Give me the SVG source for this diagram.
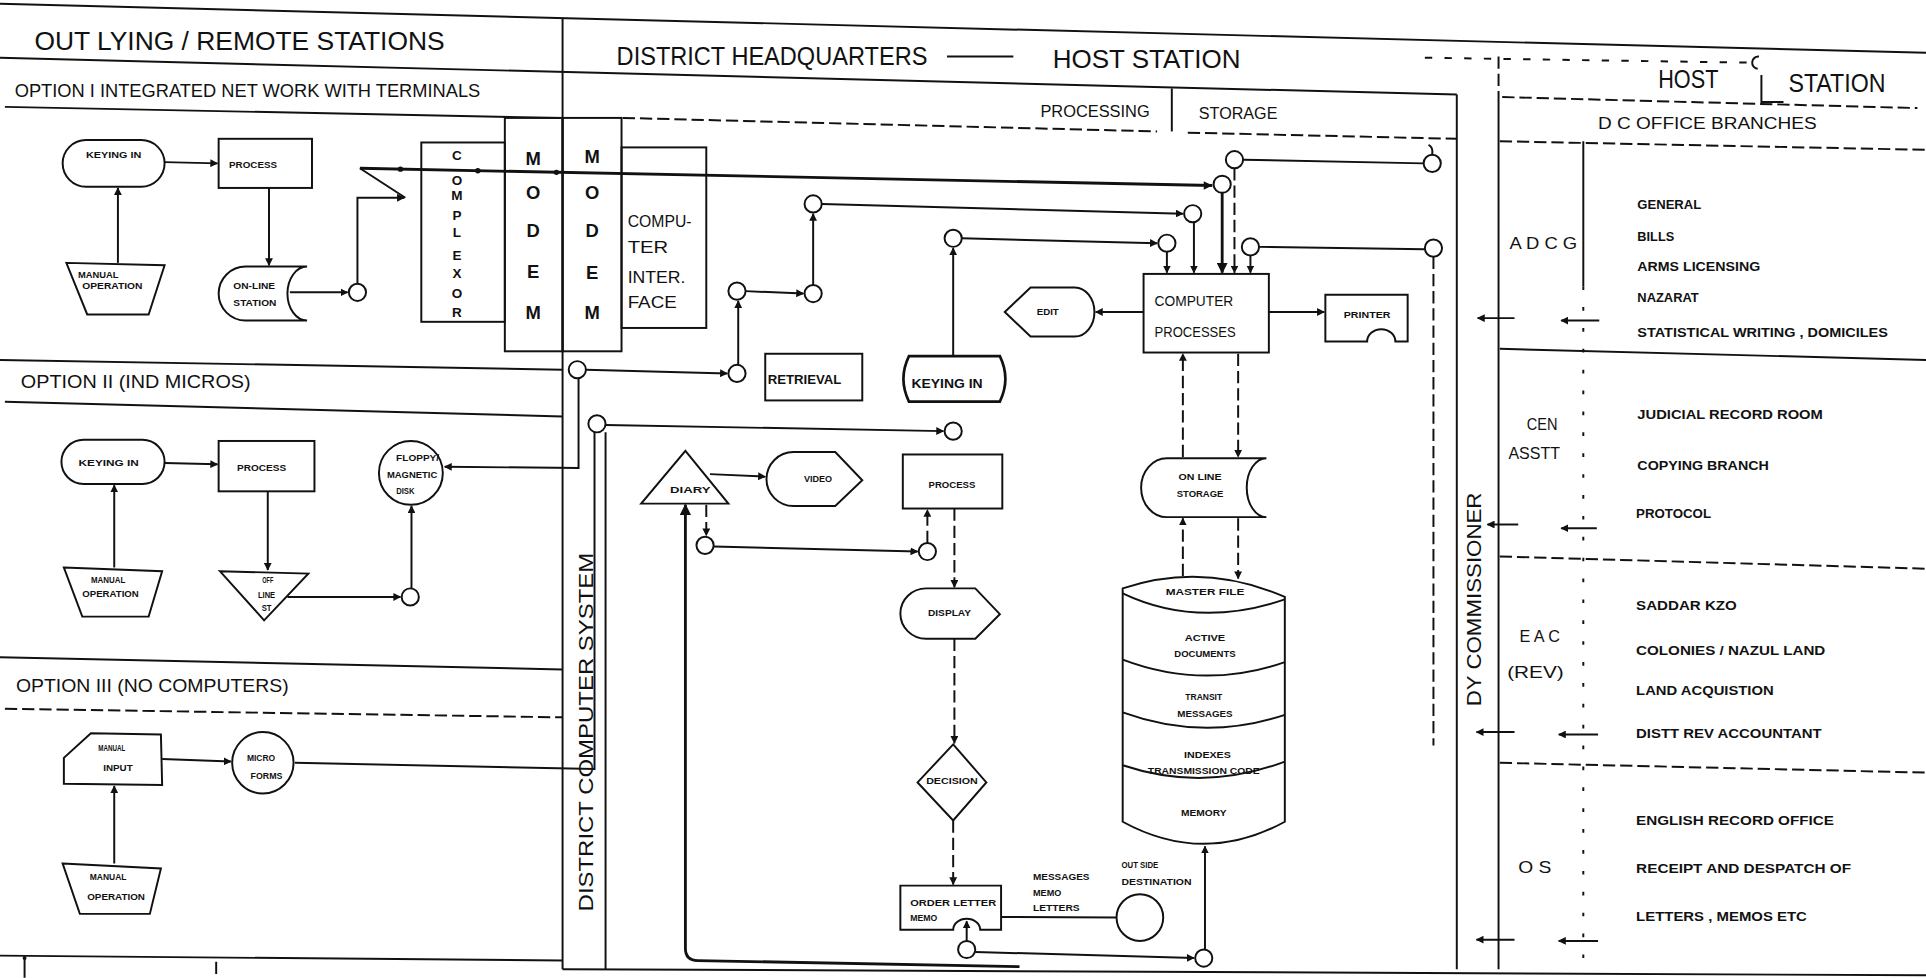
<svg xmlns="http://www.w3.org/2000/svg" width="1926" height="978" viewBox="0 0 1926 978">
<defs>
<style>
.l{fill:none;stroke:#111;stroke-width:1.6}
.w{stroke-width:2.3}
.d{stroke-dasharray:10 4}
.d2{stroke-dasharray:6 10}
.d3{stroke-dasharray:3 14}
.s{fill:#fff;stroke:#111;stroke-width:1.6}
.b{fill:none;stroke:#111;stroke-width:1.6}
.a{marker-end:url(#ah)}
text{font-family:"Liberation Sans",Arial,sans-serif;fill:#111}
.h{font-size:21px}
.m{font-size:15px}
.p{font-size:14px}
.mb{font-size:15px;font-weight:bold;text-anchor:middle}
.cx{font-size:11px;font-weight:bold;text-anchor:middle}
.sm{font-size:11px;font-weight:bold}
.g{font-size:13px}
.n{font-size:10px;font-weight:bold}
.tn{font-size:7px;font-weight:bold;text-anchor:middle}
.ts{font-size:7px;font-weight:bold}
</style>
<marker id="ah" viewBox="0 0 10 10" refX="9" refY="5" markerWidth="4" markerHeight="4" orient="auto"><path d="M0,0 L10,5 L0,10 z" fill="#111"/></marker>
</defs>
<rect width="1926" height="978" fill="#fff"/>
<g transform="scale(1.22832)">

<g id="frame">
<path class="l" d="M0,3 L1568,43"/>
<path class="l" d="M0,47 L1186,77"/>
<path class="l d" d="M1223,79 L1561,88"/>
<path class="l" d="M4,87 L456,96"/>
<path class="l d" d="M507,96 L942,107"/>
<path class="l d" d="M967,108 L1186,113"/>
<path class="l" d="M954,72 V107"/>
<path class="l d" d="M1221,115 L1568,122"/>
<path class="l d2" d="M1160,47 L1424,51"/>
<path class="l" d="M1432,46 A5,5 0 0 0 1431,56"/>
<path class="l" d="M1434,61 V83 H1452"/>
<path class="l" d="M0,293 L458,301"/>
<path class="l" d="M4,327 L458,339"/>
<path class="l" d="M0,535 L458,545"/>
<path class="l d" d="M4,577 L458,584"/>
<path class="l" d="M0,778 L458,782"/>
<path class="l" d="M458,789 L1568,794"/>
<path class="l" d="M458,15 V789"/>
<path class="l" d="M493,352 V789"/>
<path class="l" d="M1186,77 V789"/>
<path class="l d" d="M1220,46 V79"/>
<path class="l" d="M1220,79 V789"/>
<path class="l" d="M1289,115 V233"/>
<path class="l d3" d="M1289,233 V790"/>
<path class="l" d="M1221,284 L1568,293"/>
<path class="l d" d="M1221,453 L1568,463"/>
<path class="l d" d="M1221,621 L1568,629"/>
<path class="l" d="M771,46 L825,46"/>
<path class="l" d="M20,780 V796"/>
<circle cx="20" cy="780" r="1.6" fill="#111"/>
<path class="l d" d="M176,783 V796"/>
</g>

<g id="section-labels">
<text class="h" x="28" y="41" textLength="334" lengthAdjust="spacingAndGlyphs">OUT LYING  /  REMOTE  STATIONS</text>
<text class="m" x="12" y="79" textLength="379" lengthAdjust="spacingAndGlyphs">OPTION I  INTEGRATED  NET WORK  WITH  TERMINALS</text>
<text class="m" x="17" y="316" textLength="187" lengthAdjust="spacingAndGlyphs">OPTION II  (IND MICROS)</text>
<text class="m" x="13" y="563" textLength="222" lengthAdjust="spacingAndGlyphs">OPTION III  (NO  COMPUTERS)</text>
<text class="h" x="502" y="53" textLength="253" lengthAdjust="spacingAndGlyphs">DISTRICT  HEADQUARTERS</text>
<text class="h" x="857" y="55" textLength="153" lengthAdjust="spacingAndGlyphs">HOST  STATION</text>
<text class="p" x="847" y="95" textLength="89" lengthAdjust="spacingAndGlyphs">PROCESSING</text>
<text class="p" x="976" y="97" textLength="64" lengthAdjust="spacingAndGlyphs">STORAGE</text>
<text class="h" x="1350" y="72" textLength="49" lengthAdjust="spacingAndGlyphs">HOST</text>
<text class="h" x="1456" y="75" textLength="79" lengthAdjust="spacingAndGlyphs">STATION</text>
<text class="p" x="1301" y="105" textLength="178" lengthAdjust="spacingAndGlyphs">D  C  OFFICE  BRANCHES</text>
<text style="font-size:17px" transform="translate(477,596) rotate(-90)" x="0" y="6" text-anchor="middle" textLength="292" lengthAdjust="spacingAndGlyphs">DISTRICT  COMPUTER  SYSTEM</text>
<text style="font-size:16px" transform="translate(1200,488) rotate(-90)" x="0" y="6" text-anchor="middle" textLength="174" lengthAdjust="spacingAndGlyphs">DY  COMMISSIONER</text>
<text class="g" x="1229" y="203" textLength="55" lengthAdjust="spacingAndGlyphs">A D C G</text>
<text class="g" x="1243" y="350" textLength="25" lengthAdjust="spacingAndGlyphs">CEN</text>
<text class="g" x="1228" y="374" textLength="42" lengthAdjust="spacingAndGlyphs">ASSTT</text>
<text class="g" x="1237" y="523" textLength="33" lengthAdjust="spacingAndGlyphs">E A C</text>
<text class="g" x="1227" y="552" textLength="46" lengthAdjust="spacingAndGlyphs">(REV)</text>
<text class="g" x="1236" y="711" textLength="27" lengthAdjust="spacingAndGlyphs">O S</text>
<text class="sm" x="1333" y="170" textLength="52" lengthAdjust="spacingAndGlyphs">GENERAL</text>
<text class="sm" x="1333" y="196" textLength="30" lengthAdjust="spacingAndGlyphs">BILLS</text>
<text class="sm" x="1333" y="221" textLength="100" lengthAdjust="spacingAndGlyphs">ARMS  LICENSING</text>
<text class="sm" x="1333" y="246" textLength="50" lengthAdjust="spacingAndGlyphs">NAZARAT</text>
<text class="sm" x="1333" y="274" textLength="204" lengthAdjust="spacingAndGlyphs">STATISTICAL  WRITING  ,  DOMICILES</text>
<text class="sm" x="1333" y="341" textLength="151" lengthAdjust="spacingAndGlyphs">JUDICIAL  RECORD  ROOM</text>
<text class="sm" x="1333" y="383" textLength="107" lengthAdjust="spacingAndGlyphs">COPYING  BRANCH</text>
<text class="sm" x="1332" y="422" textLength="61" lengthAdjust="spacingAndGlyphs">PROTOCOL</text>
<text class="sm" x="1332" y="497" textLength="82" lengthAdjust="spacingAndGlyphs">SADDAR  KZO</text>
<text class="sm" x="1332" y="533" textLength="154" lengthAdjust="spacingAndGlyphs">COLONIES /  NAZUL  LAND</text>
<text class="sm" x="1332" y="566" textLength="112" lengthAdjust="spacingAndGlyphs">LAND  ACQUISTION</text>
<text class="sm" x="1332" y="601" textLength="151" lengthAdjust="spacingAndGlyphs">DISTT  REV  ACCOUNTANT</text>
<text class="sm" x="1332" y="672" textLength="161" lengthAdjust="spacingAndGlyphs">ENGLISH  RECORD  OFFICE</text>
<text class="sm" x="1332" y="711" textLength="175" lengthAdjust="spacingAndGlyphs">RECEIPT  AND  DESPATCH  OF</text>
<text class="sm" x="1332" y="750" textLength="139" lengthAdjust="spacingAndGlyphs">LETTERS ,  MEMOS  ETC</text>
</g>

<g id="node-o1-keying"><rect class="s" x="51" y="114" width="83" height="38" rx="19"/><text class="tn" x="92.5" y="129" textLength="45" lengthAdjust="spacingAndGlyphs">KEYING IN</text></g>
<g id="node-o1-process"><rect class="s" x="178" y="113" width="76" height="40"/><text class="tn" x="206" y="137" textLength="39" lengthAdjust="spacingAndGlyphs">PROCESS</text></g>
<g id="node-o1-manual"><path class="s" d="M54,214 L134,216 L121,256 L71,256 Z"/><text class="tn" x="80" y="226.5" textLength="33" lengthAdjust="spacingAndGlyphs">MANUAL</text><text class="tn" x="91.5" y="235.5" textLength="49" lengthAdjust="spacingAndGlyphs">OPERATION</text></g>
<g id="node-o1-online"><path class="s" d="M200,217 H250 A16,22 0 0 0 250,261 H200 A22,22 0 0 1 200,217 Z"/><text class="tn" x="207" y="235.5" textLength="34" lengthAdjust="spacingAndGlyphs">ON-LINE</text><text class="tn" x="207.5" y="249.5" textLength="35" lengthAdjust="spacingAndGlyphs">STATION</text></g>

<g id="node-complexor"><rect class="b" x="343" y="116" width="68" height="146"/>
<text class="cx" x="372" y="130">C</text><text class="cx" x="372" y="151">O</text><text class="cx" x="372" y="163">M</text><text class="cx" x="372" y="179">P</text><text class="cx" x="372" y="193">L</text><text class="cx" x="372" y="212">E</text><text class="cx" x="372" y="226">X</text><text class="cx" x="372" y="243">O</text><text class="cx" x="372" y="258">R</text></g>
<g id="node-modem1"><rect class="b" x="411" y="96" width="47" height="190"/>
<text class="mb" x="434" y="134">M</text><text class="mb" x="434" y="162">O</text><text class="mb" x="434" y="193">D</text><text class="mb" x="434" y="226">E</text><text class="mb" x="434" y="260">M</text></g>
<g id="node-modem2"><rect class="b" x="458" y="96" width="48" height="190"/>
<text class="mb" x="482" y="133">M</text><text class="mb" x="482" y="162">O</text><text class="mb" x="482" y="193">D</text><text class="mb" x="482" y="227">E</text><text class="mb" x="482" y="260">M</text></g>
<g id="node-interface"><rect class="b" x="506" y="120" width="69" height="147"/>
<text class="p" x="511" y="185" textLength="52" lengthAdjust="spacingAndGlyphs">COMPU-</text>
<text class="p" x="511" y="206" textLength="33" lengthAdjust="spacingAndGlyphs">TER</text>
<text class="p" x="511" y="230" textLength="47" lengthAdjust="spacingAndGlyphs">INTER.</text>
<text class="p" x="511" y="251" textLength="40" lengthAdjust="spacingAndGlyphs">FACE</text></g>

<g id="node-o2-keying"><rect class="s" x="50" y="358" width="84" height="36" rx="18"/><text class="tn" x="88.5" y="379.5" textLength="49" lengthAdjust="spacingAndGlyphs">KEYING IN</text></g>
<g id="node-o2-process"><rect class="s" x="178" y="359" width="78" height="41"/><text class="tn" x="213" y="383.5" textLength="40" lengthAdjust="spacingAndGlyphs">PROCESS</text></g>
<g id="node-o2-manual"><path class="s" d="M52,462 L132,465 L121,502 L67,502 Z"/><text class="tn" x="88" y="474.5" textLength="28" lengthAdjust="spacingAndGlyphs">MANUAL</text><text class="tn" x="90" y="486" textLength="46" lengthAdjust="spacingAndGlyphs">OPERATION</text></g>
<g id="node-o2-offline"><path class="s" d="M179,465 L251,467 L215,505 Z"/><text class="tn" x="218" y="474.5" textLength="9" lengthAdjust="spacingAndGlyphs">OFF</text><text class="tn" x="217" y="486.5" textLength="14" lengthAdjust="spacingAndGlyphs">LINE</text><text class="tn" x="217" y="497.5" textLength="8" lengthAdjust="spacingAndGlyphs">ST</text></g>
<g id="node-o2-floppy"><circle class="s" cx="334.5" cy="385" r="26"/><text class="tn" x="340" y="375" textLength="35" lengthAdjust="spacingAndGlyphs">FLOPPY/</text><text class="tn" x="335.5" y="389" textLength="41" lengthAdjust="spacingAndGlyphs">MAGNETIC</text><text class="tn" x="330" y="402" textLength="15" lengthAdjust="spacingAndGlyphs">DISK</text></g>

<g id="node-o3-input"><path class="s" d="M74,597 L131,598 L132,639 L52,638 L52,617 Z"/><text class="tn" x="91" y="611.5" textLength="22" lengthAdjust="spacingAndGlyphs">MANUAL</text><text class="tn" x="96" y="627.5" textLength="24" lengthAdjust="spacingAndGlyphs">INPUT</text></g>
<g id="node-o3-microforms"><circle class="s" cx="214" cy="621" r="25"/><text class="tn" x="212.5" y="619.5" textLength="23" lengthAdjust="spacingAndGlyphs">MICRO</text><text class="tn" x="217" y="634.5" textLength="26" lengthAdjust="spacingAndGlyphs">FORMS</text></g>
<g id="node-o3-manual"><path class="s" d="M51,703 L131,707 L122,744 L65,744 Z"/><text class="tn" x="88" y="716.5" textLength="30" lengthAdjust="spacingAndGlyphs">MANUAL</text><text class="tn" x="94.5" y="732.5" textLength="47" lengthAdjust="spacingAndGlyphs">OPERATION</text></g>

<g id="node-retrieval"><rect class="s" x="623" y="288" width="79" height="38"/><text class="n" x="625" y="313" textLength="60" lengthAdjust="spacingAndGlyphs">RETRIEVAL</text></g>
<g id="node-keyingin"><path class="s" style="stroke-width:2.2" d="M740,290 H814 Q823,308.5 814,327 H740 Q731,308.5 740,290 Z"/><text class="n" x="771" y="316" text-anchor="middle" textLength="58" lengthAdjust="spacingAndGlyphs">KEYING  IN</text></g>
<g id="node-diary"><path class="s" d="M558,367 L593,410 L522,410 Z"/><text class="tn" x="562" y="401.5" textLength="33" lengthAdjust="spacingAndGlyphs">DIARY</text></g>
<g id="node-video"><path class="s" d="M646,368 L680,368 L702,391 L680,412 L646,412 A22,22 0 0 1 646,368 Z"/><text class="tn" x="666" y="392.5" textLength="23" lengthAdjust="spacingAndGlyphs">VIDEO</text></g>
<g id="node-process"><rect class="s" x="735" y="370" width="81" height="44"/><text class="tn" x="775" y="397.5" textLength="38" lengthAdjust="spacingAndGlyphs">PROCESS</text></g>
<g id="node-display"><path class="s" d="M754,479 L794,479 L814,500 L794,520 L754,520 A21,20.5 0 0 1 754,479 Z"/><text class="tn" x="773" y="501.5" textLength="35" lengthAdjust="spacingAndGlyphs">DISPLAY</text></g>
<g id="node-decision"><path class="s" d="M776,606 L803,637 L776,668 L747,637 Z"/><text class="tn" x="775" y="638.5" textLength="42" lengthAdjust="spacingAndGlyphs">DECISION</text></g>
<g id="node-order"><path class="s" d="M733,721 H815 V757 H798 A11,9 0 0 0 776,757 H733 Z"/><text class="ts" x="741" y="737.5" textLength="70" lengthAdjust="spacingAndGlyphs">ORDER LETTER</text><text class="ts" x="741" y="749.5" textLength="22" lengthAdjust="spacingAndGlyphs">MEMO</text></g>
<g id="label-messages"><text class="ts" x="841" y="716.5" textLength="46" lengthAdjust="spacingAndGlyphs">MESSAGES</text><text class="ts" x="841" y="729.5" textLength="23" lengthAdjust="spacingAndGlyphs">MEMO</text><text class="ts" x="841" y="741.5" textLength="38" lengthAdjust="spacingAndGlyphs">LETTERS</text></g>
<g id="node-outside"><circle class="s" cx="928" cy="747" r="19"/><text class="ts" x="913" y="706.5" textLength="30" lengthAdjust="spacingAndGlyphs">OUT SIDE</text><text class="ts" x="913" y="720.5" textLength="57" lengthAdjust="spacingAndGlyphs">DESTINATION</text></g>
<g id="node-edit"><path class="s" d="M818,254 L839,234 L875,234 A16,20 0 0 1 875,274 L839,274 Z"/><text class="tn" x="853" y="256.5" textLength="18" lengthAdjust="spacingAndGlyphs">EDIT</text></g>
<g id="node-cp"><rect class="s" x="931" y="223" width="102" height="64"/><text style="font-size:12px" x="940" y="249" textLength="64" lengthAdjust="spacingAndGlyphs">COMPUTER</text><text style="font-size:12px" x="940" y="274" textLength="66" lengthAdjust="spacingAndGlyphs">PROCESSES</text></g>
<g id="node-printer"><path class="s" d="M1079,240 H1146 V278 H1136 A11.5,10 0 0 0 1113,278 H1079 Z"/><text class="tn" x="1113" y="258.5" textLength="38" lengthAdjust="spacingAndGlyphs">PRINTER</text></g>
<g id="node-storage"><path class="s" d="M950,373 H1031 A16,24 0 0 0 1031,421 H950 A21,24 0 0 1 950,373 Z"/><text class="tn" x="977" y="390.5" textLength="35" lengthAdjust="spacingAndGlyphs">ON LINE</text><text class="tn" x="977" y="404.5" textLength="38" lengthAdjust="spacingAndGlyphs">STORAGE</text></g>
<g id="node-drum"><path class="s" d="M914,479 Q980,457 1046,486 L1046,669 Q980,705 914,669 Z"/>
<path class="l" d="M914,483 Q975,512 1046,488"/>
<path class="l" d="M914,537 Q980,562 1046,539"/>
<path class="l" d="M914,580 Q980,604 1046,582"/>
<path class="l" d="M914,623 Q980,645 1046,620"/>
<text class="tn" x="981" y="484.5" textLength="64" lengthAdjust="spacingAndGlyphs">MASTER  FILE</text>
<text class="tn" x="981" y="521.5" textLength="33" lengthAdjust="spacingAndGlyphs">ACTIVE</text>
<text class="tn" x="981" y="534.5" textLength="50" lengthAdjust="spacingAndGlyphs">DOCUMENTS</text>
<text class="tn" x="980" y="569.5" textLength="30" lengthAdjust="spacingAndGlyphs">TRANSIT</text>
<text class="tn" x="981" y="583.5" textLength="45" lengthAdjust="spacingAndGlyphs">MESSAGES</text>
<text class="tn" x="983" y="617.5" textLength="38" lengthAdjust="spacingAndGlyphs">INDEXES</text>
<text class="tn" x="980" y="630.5" textLength="91" lengthAdjust="spacingAndGlyphs">TRANSMISSION CODE</text>
<text class="tn" x="980" y="664.5" textLength="37" lengthAdjust="spacingAndGlyphs">MEMORY</text></g>

<g id="connectors">
<path class="l a" d="M134,132 L177,133"/>
<path class="l a" d="M96,214 L96,153"/>
<path class="l a" d="M219,153 L219,216"/>
<path class="l a" d="M236,238 L283,238"/>
<path class="l a" d="M291,231 V161 H329"/>
<path class="l" d="M330,161 L293,137"/>
<path class="l w" d="M293,137 L987,151"/>
<path d="M987,151 l-7,-3.5 l0,7 z" fill="#111"/>
<circle cx="326" cy="137.7" r="2.2" fill="#111"/>
<circle cx="389" cy="139" r="2.2" fill="#111"/>
<circle cx="453" cy="140.3" r="2.2" fill="#111"/>
<path class="l a w" d="M995,157 L995,222"/>
<path class="l a" d="M669,166 L963,174"/>
<path class="l a" d="M972,181 L972,222"/>
<path class="l a" d="M662,232 L662,174"/>
<path class="l a" d="M607,237 L654,239"/>
<path class="l a" d="M601,297 L601,245"/>
<path class="l a" d="M477,301 L592,304"/>
<path class="l a" d="M471,308 V381 L362,380"/>
<path class="l a" d="M493,346 L768,351"/>
<path class="l" d="M240,621 L484,626 V352"/>
<path class="l a" d="M776,290 L776,202"/>
<path class="l a" d="M783,194 L942,198"/>
<path class="l a" d="M950,205 L950,222"/>
<path class="l" d="M1012,130 L1159,133"/>
<path class="l d a" d="M1005,137 L1005,222"/>
<path class="l" d="M1025,201 L1160,203"/>
<path class="l a" d="M1018,208 L1018,222"/>
<path class="l d" d="M1167,209 L1167,607"/>
<path class="l" d="M1163,118 q4,2 3,8"/>
<path class="l a" d="M931,254 L892,254"/>
<path class="l a" d="M1033,254 L1078,254"/>
<path class="l d a" d="M963,372 L963,288"/>
<path class="l d a" d="M1008,288 L1008,372"/>
<path class="l d a" d="M963,469 L963,422"/>
<path class="l d a" d="M1008,422 L1008,471"/>
<path class="l a" d="M981,773 L981,689"/>
<path class="l a w" d="M830,787 L568,782 Q558,782 558,772 L558,411"/>
<path class="l a" d="M794,775 L972,780"/>
<path class="l a" d="M787,766 L787,750"/>
<path class="l" d="M815,746.5 L909,747"/>
<path class="l d a" d="M776,668 L776,720"/>
<path class="l d a" d="M777,520 L777,605"/>
<path class="l d a" d="M777,414 L777,478"/>
<path class="l d a" d="M755,442 L755,415"/>
<path class="l a" d="M581,445 L747,449"/>
<path class="l d a" d="M575,411 L575,436"/>
<path class="l a" d="M578,386 L623,388"/>
<path class="l a" d="M132,618 L188,620"/>
<path class="l a" d="M93,703 L93,640"/>
<path class="l a" d="M134,377 L177,378"/>
<path class="l a" d="M93,462 L93,395"/>
<path class="l a" d="M218,400 L218,464"/>
<path class="l a" d="M234,486 L326,486"/>
<path class="l a" d="M335,479 L335,412"/>
<path class="l a" d="M1233,259 L1203,259"/>
<path class="l a" d="M1302,261 L1271,261"/>
<path class="l a" d="M1236,427 L1211,427"/>
<path class="l a" d="M1300,430 L1271,430"/>
<path class="l a" d="M1233,596 L1202,596"/>
<path class="l a" d="M1301,598 L1269,598"/>
<path class="l a" d="M1233,765 L1202,765"/>
<path class="l a" d="M1301,766 L1269,766"/>
</g>

<g id="junctions">
<circle class="s" cx="662" cy="166" r="7"/>
<circle class="s" cx="662" cy="239" r="7"/>
<circle class="s" cx="600" cy="237" r="7"/>
<circle class="s" cx="600" cy="304" r="7"/>
<circle class="s" cx="470" cy="301" r="7"/>
<circle class="s" cx="486" cy="345" r="7"/>
<circle class="s" cx="776" cy="351" r="7"/>
<circle class="s" cx="776" cy="194" r="7"/>
<circle class="s" cx="574" cy="444" r="7"/>
<circle class="s" cx="755" cy="449" r="7"/>
<circle class="s" cx="1005" cy="130" r="7"/>
<circle class="s" cx="1166" cy="133" r="7"/>
<circle class="s" cx="995" cy="150" r="7"/>
<circle class="s" cx="971" cy="174" r="7"/>
<circle class="s" cx="950" cy="198" r="7"/>
<circle class="s" cx="1018" cy="201" r="7"/>
<circle class="s" cx="1167" cy="202" r="7"/>
<circle class="s" cx="291" cy="238" r="7"/>
<circle class="s" cx="334" cy="486" r="7"/>
<circle class="s" cx="980" cy="780" r="7"/>
<circle class="s" cx="787" cy="773" r="7"/>
</g>
</g>
</svg>
